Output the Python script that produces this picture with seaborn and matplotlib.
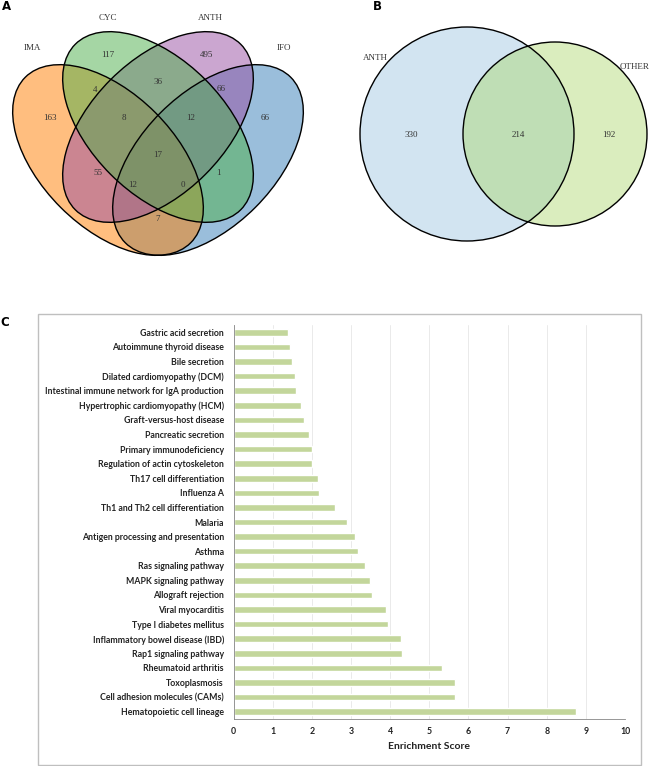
import numpy as np
import pandas as pd
import matplotlib.pyplot as plt
import seaborn as sns
from matplotlib.patches import Ellipse, Circle, Rectangle

# ---- data ----
venn4_sets = ['IMA', 'CYC', 'ANTH', 'IFO']
# regions: IMA, CYC, ANTH, IFO only; IMA&CYC; CYC&ANTH; ANTH&IFO; IMA&CYC&ANTH;
# CYC&ANTH&IFO; all; IMA&ANTH; CYC&IFO; IMA&ANTH&IFO; IMA&CYC&IFO; IMA&IFO
venn4_counts = [163, 117, 495, 66, 4, 36, 66, 8, 12, 17, 55, 1, 12, 0, 7]

venn2_sets = ['ANTH', 'OTHER']
venn2_counts = [330, 214, 192]

pathways = [
    'Gastric acid secretion', 'Autoimmune thyroid disease', 'Bile secretion',
    'Dilated cardiomyopathy (DCM)', 'Intestinal immune network for IgA production',
    'Hypertrophic cardiomyopathy (HCM)', 'Graft-versus-host disease',
    'Pancreatic secretion', 'Primary immunodeficiency',
    'Regulation of actin cytoskeleton', 'Th17 cell differentiation', 'Influenza A',
    'Th1 and Th2 cell differentiation', 'Malaria',
    'Antigen processing and presentation', 'Asthma', 'Ras signaling pathway',
    'MAPK signaling pathway', 'Allograft rejection', 'Viral myocarditis',
    'Type I diabetes mellitus', 'Inflammatory bowel disease (IBD)',
    'Rap1 signaling pathway', 'Rheumatoid arthritis', 'Toxoplasmosis',
    'Cell adhesion molecules (CAMs)', 'Hematopoietic cell lineage',
]
scores = [1.39, 1.43, 1.48, 1.58, 1.59, 1.72, 1.81, 1.92, 2.00, 2.00, 2.15, 2.19,
          2.58, 2.91, 3.11, 3.17, 3.35, 3.49, 3.54, 3.90, 3.94, 4.27, 4.30, 5.33,
          5.66, 5.66, 8.76]

df = pd.DataFrame({'pathway': pathways, 'score': scores})

sns.set_style("white")
plt.rcParams['font.family'] = ['DejaVu Sans']

W, H = 650, 766
fig = plt.figure(figsize=(W / 100, H / 100), dpi=100)

# full-figure canvas in pixel coordinates for the Venn diagrams
canvas = fig.add_axes([0, 0, 1, 1])
canvas.set_xlim(0, W)
canvas.set_ylim(H, 0)
canvas.axis('off')

set1 = sns.color_palette('Set1')
venn4_colors = [set1[4], set1[2], set1[3], set1[1]]
venn4_geom = [(108, 160, 45), (158, 127, 45), (158, 127, -45), (208, 160, -45)]
# drawing order decides how the overlaps blend: IFO, IMA, ANTH, CYC
for i in [3, 0, 2, 1]:
    (cx, cy, ang), col = venn4_geom[i], venn4_colors[i]
    canvas.add_patch(Ellipse((cx, cy), 234, 134, angle=ang, facecolor=col,
                             alpha=0.5, edgecolor='none'))
for cx, cy, ang in venn4_geom:
    canvas.add_patch(Ellipse((cx, cy), 234, 134, angle=ang, facecolor='none',
                             edgecolor='black', lw=1.0))

serif = 'Liberation Serif'
venn4_label_pos = [(32, 48), (108, 18), (210, 18), (284, 48)]
for name, (x, y) in zip(venn4_sets, venn4_label_pos):
    canvas.text(x, y, name, ha='center', va='center', fontsize=6.5, family=serif,
                color='#333333')
venn4_count_pos = [(50, 118), (108, 55), (207, 55), (265, 118), (95, 90),
                   (158, 82), (221, 89), (124, 118), (191, 118), (158, 155),
                   (98, 173), (218, 173), (133, 185), (183, 185), (158, 219)]
for n, (x, y) in zip(venn4_counts, venn4_count_pos):
    canvas.text(x, y, str(n), ha='center', va='center', fontsize=6.5, family=serif,
                color='#333333')

# panel B
canvas.add_patch(Circle((467, 134), 107, facecolor='#D2E4F1', edgecolor='none'))
canvas.add_patch(Circle((555, 134), 92, facecolor='#A7D664', alpha=0.42,
                        edgecolor='none'))
canvas.add_patch(Circle((467, 134), 107, facecolor='none', edgecolor='black', lw=1.0))
canvas.add_patch(Circle((555, 134), 92, facecolor='none', edgecolor='black', lw=1.0))
for name, (x, y) in zip(venn2_sets, [(375, 58), (635, 67)]):
    canvas.text(x, y, name, ha='center', va='center', fontsize=6.5, family=serif,
                color='#333333')
for n, (x, y) in zip(venn2_counts, [(411, 135), (518, 135), (609, 135)]):
    canvas.text(x, y, str(n), ha='center', va='center', fontsize=6.5, family=serif,
                color='#333333')

# panel C frame
canvas.add_patch(Rectangle((38, 314), 603, 451, facecolor='white',
                           edgecolor='#BFBFBF', lw=1.0))

for lab, (x, y) in zip(['A', 'B', 'C'], [(6, 7), (377, 7), (5, 322)]):
    canvas.text(x, y, lab, ha='center', va='center', fontsize=8.5,
                fontweight='bold', color='black')

# panel C bar chart
x0, x1, y0, y1 = 233.6, 625, 325, 719
ax = fig.add_axes([x0 / W, 1 - y1 / H, (x1 - x0) / W, (y1 - y0) / H])
sns.barplot(data=df, x='score', y='pathway', orient='h', color='#C3D69B',
            saturation=1, width=0.45, ax=ax)
ax.set_xlim(0, 10)
ax.set_ylim(len(pathways) - 0.5, -0.5)
ax.set_xticks(range(0, 11))
ax.xaxis.grid(True, color='#E6E6E6', lw=0.6)
ax.set_axisbelow(True)
ax.set_yticks(np.arange(-0.5, len(pathways), 1), minor=True)
ax.tick_params(axis='y', which='major', length=0, pad=7)
ax.tick_params(axis='y', which='minor', length=3, color='#868686', width=0.6)
ax.tick_params(axis='x', length=3, color='#868686', width=0.6, pad=3)
for t in ax.get_yticklabels() + ax.get_xticklabels():
    t.set_fontfamily('Lato')
    t.set_fontweight('bold')
    t.set_fontsize(6.35)
    t.set_color('#222222')
ax.set_ylabel('')
ax.set_xlabel('Enrichment Score', fontsize=7.5, fontweight='bold', family='Lato',
              color='#222222', labelpad=4)
for side in ['top', 'right']:
    ax.spines[side].set_visible(False)
for side in ['left', 'bottom']:
    ax.spines[side].set_color('#868686')
    ax.spines[side].set_linewidth(0.6)

fig.savefig('out.png', dpi=100)
